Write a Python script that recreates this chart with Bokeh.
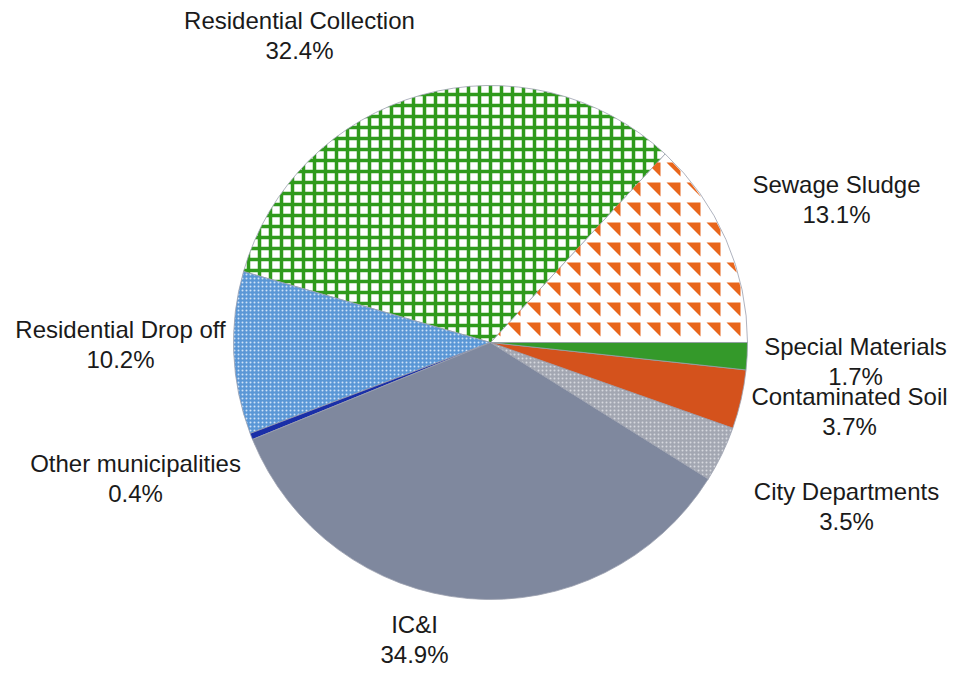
import math
from bokeh.plotting import figure
from bokeh.models import ColumnDataSource
from bokeh.core.properties import value
from bokeh.embed import file_html
from bokeh.resources import INLINE

# ---- data (anticlockwise from 3 o'clock) ----
categories = ["Sewage Sludge", "Residential Collection", "Residential Drop off",
              "Other municipalities", "IC&I", "City Departments",
              "Contaminated Soil", "Special Materials"]
percents = [13.1, 32.4, 10.2, 0.4, 34.9, 3.5, 3.7, 1.7]
pct_labels = ["13.1%", "32.4%", "10.2%", "0.4%", "34.9%", "3.5%", "3.7%", "1.7%"]

# ---- styles ----
fill_colors = ["#ffffff", "#ffffff", "#5a97d6", "#1a2fa8", "#7f889e",
               "#a3a7b2", "#d4521c", "#34992a"]
hatch_patterns = [" ", "cross", "dot", " ", " ", "dot", " ", " "]
hatch_colors = ["#ffffff", "#2f9a1c", "#cfe3f7", "#ffffff", "#ffffff",
                "#d6d8de", "#ffffff", "#ffffff"]
hatch_scales = [12, 11, 4, 12, 12, 4, 12, 12]
hatch_weights = [1, 3.5, 1, 1, 1, 1, 1, 1]
TRI_COLOR = "#e8661c"
TRI_CELL, TRI_SIZE = 20, 14

# label positions (screen px from top-left) -- layout only
label_pos = {
    "Sewage Sludge": (836, 184),
    "Residential Collection": (299, 20),
    "Residential Drop off": (120, 329),
    "Other municipalities": (135, 463),
    "IC&I": (414, 624),
    "City Departments": (846, 491),
    "Contaminated Soil": (849, 396),
    "Special Materials": (855, 346),
}
PCT_DY = 30
W, H = 948, 672
CX, CY, R = 490, 342, 257  # pie centre/radius in screen px

total = sum(percents)
starts, ends = [], []
acc = 0.0
for v in percents:
    starts.append(2 * math.pi * acc / total)
    acc += v
    ends.append(2 * math.pi * acc / total)

cx, cy = CX, H - CY
src = ColumnDataSource(dict(
    x=[cx] * len(percents), y=[cy] * len(percents),
    start=starts, end=ends, fill=fill_colors,
    hp=hatch_patterns, hc=hatch_colors, hs=hatch_scales, hw=hatch_weights,
))

p = figure(width=W, height=H, x_range=(0, W), y_range=(0, H),
           output_backend="svg", toolbar_location=None, min_border=0)
p.axis.visible = False
p.grid.visible = False
p.outline_line_color = None
p.background_fill_color = "white"

p.wedge(x="x", y="y", radius=R, start_angle="start", end_angle="end",
        direction="anticlock", source=src, fill_color="fill",
        line_color="#9aa0ae", line_width=0.8,
        hatch_pattern="hp", hatch_color="hc", hatch_scale="hs",
        hatch_weight="hw")

# ---- triangle texture for the Sewage Sludge slice (clipped to its wedge) ----
def clip(poly, a, b):
    # keep the part of poly left of directed edge a->b
    def side(pt):
        return (b[0] - a[0]) * (pt[1] - a[1]) - (b[1] - a[1]) * (pt[0] - a[0])
    out = []
    n = len(poly)
    for i in range(n):
        cur, nxt = poly[i], poly[(i + 1) % n]
        sc, sn = side(cur), side(nxt)
        if sc >= 0:
            out.append(cur)
        if (sc >= 0) != (sn >= 0):
            t = sc / (sc - sn)
            out.append((cur[0] + t * (nxt[0] - cur[0]), cur[1] + t * (nxt[1] - cur[1])))
    return out

si = categories.index("Sewage Sludge")
a0, a1 = starts[si], ends[si]
nseg = 40
wedge_poly = [(cx, cy)] + [(cx + (R - 1) * math.cos(a0 + (a1 - a0) * k / nseg),
                            cy + (R - 1) * math.sin(a0 + (a1 - a0) * k / nseg))
                           for k in range(nseg + 1)]
txs, tys = [], []
for gx in range(cx - 4, cx + R + TRI_CELL, TRI_CELL):
    for gy in range(cy, cy + R + TRI_CELL, TRI_CELL):
        # ◥ : top-left, bottom-right, top-right (y up)
        poly = [(gx, gy), (gx + TRI_SIZE, gy - TRI_SIZE), (gx + TRI_SIZE, gy)]
        m = len(wedge_poly)
        for i in range(m):
            if not poly:
                break
            poly = clip(poly, wedge_poly[i], wedge_poly[(i + 1) % m])
        if len(poly) >= 3:
            txs.append([q[0] for q in poly])
            tys.append([q[1] for q in poly])
p.patches(txs, tys, fill_color=TRI_COLOR, line_color=None)

lx, ly1, ly2, t1, t2 = [], [], [], [], []
for c, pl in zip(categories, pct_labels):
    x, y = label_pos[c]
    lx.append(x)
    ly1.append(H - y)
    ly2.append(H - y - PCT_DY)
    t1.append(c)
    t2.append(pl)

p.text(x=lx, y=ly1, text=t1, text_align="center", text_baseline="middle",
       text_font=value("Liberation Sans"), text_font_size="24px",
       text_color="#1a1a1a")
p.text(x=lx, y=ly2, text=t2, text_align="center", text_baseline="middle",
       text_font=value("Liberation Sans"), text_font_size="24px",
       text_color="#1a1a1a")

open("out.html", "w").write(file_html(p, INLINE))
